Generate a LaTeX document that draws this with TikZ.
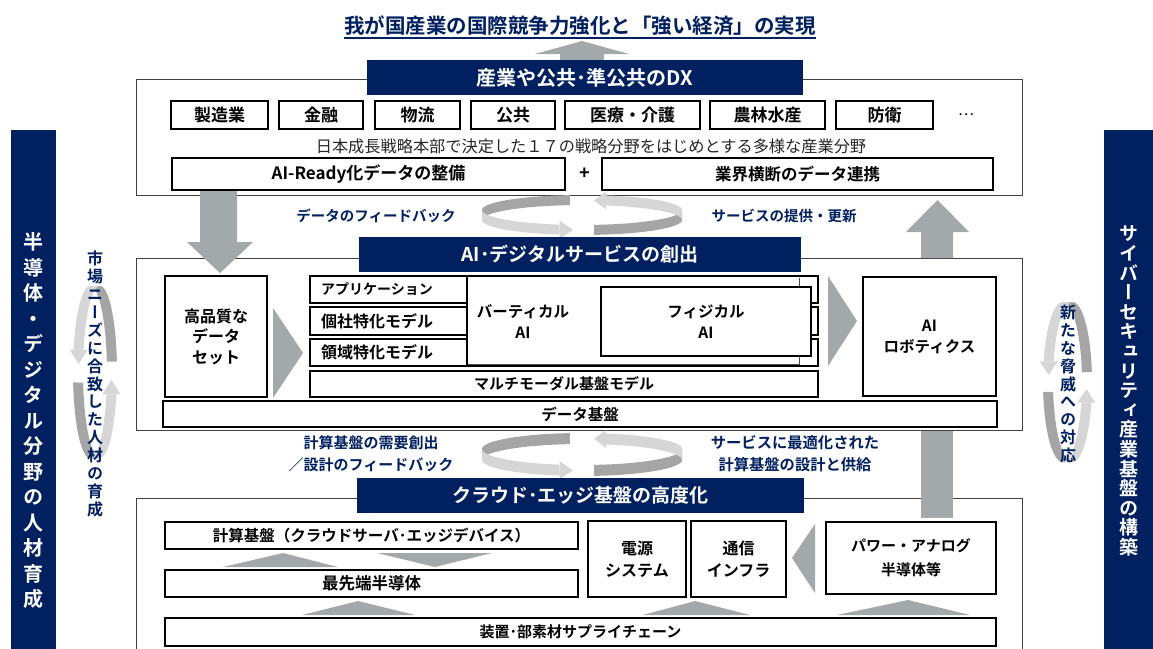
\documentclass[tikz,border=0pt]{standalone}
\usepackage{fontspec}
\setmainfont{Noto Sans CJK JP}[BoldFont={Noto Sans CJK JP Bold}]
\newfontfamily\vjp{Noto Sans CJK JP Bold}[RawFeature={+vert}]
\usetikzlibrary{arrows.meta}
\definecolor{navy}{RGB}{0,32,96}
\definecolor{agray}{RGB}{163,168,170}
\definecolor{rdark}{RGB}{165,165,165}
\definecolor{rlight}{RGB}{214,214,214}
\definecolor{fgray}{RGB}{64,64,64}
\definecolor{subtxt}{RGB}{38,38,38}
\newcommand\mybox[7]{\node[#1, minimum width={(#5)-(#3)}, minimum height={(#6)-(#4)}] (#2) at ({((#3)+(#5))/2},{((#4)+(#6))/2}) {#7};}
\newcommand\ribbon[9]{\fill[#1] plot[domain=0:1,samples=36] ({#2+#4*cos((#8)+((#9)-(#8))*\x)},{#3+#5*sin((#8)+((#9)-(#8))*\x)}) -- plot[domain=0:1,samples=36] ({#2+#6+#4*cos((#9)+((#8)-(#9))*\x)},{#3+#7+#5*sin((#9)+((#8)-(#9))*\x)}) -- cycle;}
\begin{document}
\begin{tikzpicture}[x=1pt,y=-1pt,
  tbox/.style={draw=black, line width=2.6pt, fill=white, align=center, inner sep=1pt},
  frame/.style={draw=fgray, line width=1pt, fill=white},
  banner/.style={fill=navy, text=white, inner sep=0pt},
  fz/.style 2 args={font=\bfseries\fontsize{#1}{#2}\selectfont},
  lbl/.style={text=navy, align=center, inner sep=0pt},
  rd/.style={fill=rdark}, rl/.style={fill=rlight}, ar/.style={fill=agray}]
\useasboundingbox (0,0) rectangle (1153,648);
\fill[white] (0,0) rectangle (1153,648);
% title
\node[lbl, fz={20.5}{23}] (title) at (580,26) {我が国産業の国際競争力強化と「強い経済」の実現};
\coordinate (ul) at (0,38);
\draw[navy, line width=1.1pt] (title.west |- ul) -- (title.east |- ul);
% arrow to title (behind banner)
\fill[ar] (560,62) -- (560,54) -- (535,54) -- (582,41) -- (629,54) -- (604,54) -- (604,62) -- cycle;
% frames
\mybox{frame}{topframe}{136}{79}{1022}{195}{}
\mybox{frame}{midframe}{136}{258}{1022}{430}{}
\filldraw[draw=fgray, fill=white, line width=1pt] (136,660) -- (136,498) -- (1022,498) -- (1022,660);
% rings upper
\ribbon{rd}{582}{210}{100}{15}{0}{10}{-97}{-180}
\ribbon{rl}{582}{210}{100}{15}{0}{10}{-180}{-257}
\fill[rl] (559.5,220.6) -- (573,230) -- (559.5,238.6) -- cycle;
\ribbon{rd}{582}{210}{100}{15}{0}{10}{83}{0}
\ribbon{rl}{582}{210}{100}{15}{0}{10}{0}{-76}
\fill[rl] (606.2,191.4) -- (594,200.4) -- (606.2,209.4) -- cycle;
% rings lower
\ribbon{rd}{582}{449}{100}{16}{0}{11}{-97}{-180}
\ribbon{rl}{582}{449}{100}{16}{0}{11}{-180}{-257}
\fill[rl] (559.5,461.1) -- (573,470.3) -- (559.5,479.1) -- cycle;
\ribbon{rd}{582}{449}{100}{16}{0}{11}{83}{0}
\ribbon{rl}{582}{449}{100}{16}{0}{11}{0}{-76}
\fill[rl] (606.2,430) -- (594,438.8) -- (606.2,448) -- cycle;
% vertical rings
\ribbon{rd}{90}{372}{17}{86}{10}{0}{-7}{-90}
\ribbon{rl}{90}{372}{17}{86}{10}{0}{-90}{-165}
\fill[rl] (69.6,349.7) -- (78.6,364) -- (87.6,349.7) -- cycle;
\ribbon{rd}{90}{372}{17}{86}{10}{0}{173}{90}
\ribbon{rl}{90}{372}{17}{86}{10}{0}{90}{15}
\fill[rl] (102.4,394.3) -- (111.4,380) -- (120.4,394.3) -- cycle;
\ribbon{rd}{1062.5}{382}{19.5}{80}{10}{0}{-7}{-90}
\ribbon{rl}{1062.5}{382}{19.5}{80}{10}{0}{-90}{-165}
\fill[rl] (1039.7,361.3) -- (1048.7,375) -- (1057.7,361.3) -- cycle;
\ribbon{rd}{1062.5}{382}{19.5}{80}{10}{0}{173}{90}
\ribbon{rl}{1062.5}{382}{19.5}{80}{10}{0}{90}{15}
\fill[rl] (1077.3,402.7) -- (1086.3,389) -- (1095.3,402.7) -- cycle;
% banners
\mybox{banner, fz={20}{22}}{dxb}{367}{60}{803}{95}{産業や公共･準公共のDX}
\mybox{banner, fz={19}{22}}{aib}{359}{237}{801}{272}{AI･デジタルサービスの創出}
\mybox{banner, fz={19}{22}}{clb}{357}{478}{804}{513}{クラウド･エッジ基盤の高度化}
% block arrows
\fill[ar] (200,190) -- (237,190) -- (237,242) -- (253,242) -- (220,273) -- (187,242) -- (200,242) -- cycle;
\fill[ar] (921,258) -- (921,232) -- (906,232) -- (937.5,200) -- (969,232) -- (953,232) -- (953,258) -- cycle;
\fill[ar] (921,431) rectangle (953,518);
\fill[ar] (273,308) -- (303,353) -- (273,398) -- cycle;
\fill[ar] (828,276) -- (857,321) -- (828,366) -- cycle;
\fill[ar] (223,567) -- (283,553) -- (338,567) -- cycle;
\fill[ar] (377,553) -- (435,567) -- (492,553) -- cycle;
\fill[ar] (302,615) -- (358,601) -- (415,615) -- cycle;
\fill[ar] (643,615) -- (695,601) -- (750,615) -- cycle;
\fill[ar] (837,615) -- (908,600) -- (970,615) -- cycle;
\fill[ar] (815,524) -- (792,558) -- (815,593) -- cycle;
% top section
\mybox{tbox, fz={17}{19}}{i1}{171}{101}{268}{129}{製造業}
\mybox{tbox, fz={17}{19}}{i2}{279}{101}{363}{129}{金融}
\mybox{tbox, fz={17}{19}}{i3}{375}{101}{460}{129}{物流}
\mybox{tbox, fz={17}{19}}{i4}{471}{101}{555}{129}{公共}
\mybox{tbox, fz={17}{19}}{i5}{565}{101}{700}{129}{医療・介護}
\mybox{tbox, fz={17}{19}}{i6}{710}{101}{825}{129}{農林水産}
\mybox{tbox, fz={17}{19}}{i7}{836}{101}{933}{129}{防衛}
\node[font=\fontsize{15}{18}\selectfont] (dots) at (966,115) {…};
\node[font=\fontsize{16.2}{19}\selectfont, text=subtxt, inner sep=0pt] (sub) at (591,146) {日本成長戦略本部で決定した１７の戦略分野をはじめとする多様な産業分野};
\mybox{tbox, fz={17}{19}}{ready}{172}{158}{565}{190}{AI-Ready化データの整備}
\node[fz={18}{20}] (plus) at (585,174) {+};
\mybox{tbox, fz={16.5}{19}}{cross}{602}{158}{993}{190}{業界横断のデータ連携}
% cycle labels
\node[lbl, fz={14.5}{17}] (fb1) at (376,216) {データのフィードバック};
\node[lbl, fz={14.5}{17}] (sv1) at (784,216) {サービスの提供・更新};
\node[lbl, fz={15}{22}] (fb2) at (371,454) {計算基盤の需要創出\\／設計のフィードバック};
\node[lbl, fz={15.3}{22}] (sv2) at (795,454) {サービスに最適化された\\計算基盤の設計と供給};
% middle section
\mybox{tbox, fz={16}{20.5}}{dataset}{165}{276}{267}{397}{高品質な\\データ\\セット}
\mybox{tbox}{lay1}{310}{276}{818}{303}{}
\mybox{tbox}{lay2}{310}{307}{818}{335}{}
\mybox{tbox}{lay3}{310}{339}{818}{366}{}
\fill[white] (467,277.5) rectangle (799,364.5);
\draw[line width=0.8pt, black!70] (799,277.5) -- (799,364.5) -- (467,364.5);
\draw[line width=2.6pt] (467,276) -- (467,366);
\node[fz={14}{17}, anchor=west, inner sep=0pt] (applbl) at (321,289.5) {アプリケーション};
\node[fz={16}{17}, anchor=west, inner sep=0pt] (koshalbl) at (321,321) {個社特化モデル};
\node[fz={16}{17}, anchor=west, inner sep=0pt] (ryoikilbl) at (321,352.5) {領域特化モデル};
\node[fz={15.5}{21}, align=center] (vert) at (523,321) {バーティカル\\AI};
\mybox{tbox, fz={15.5}{21}}{phys}{601}{287}{811}{356}{フィジカル\\AI}
\mybox{tbox, fz={15}{18}}{mm}{310}{371}{818}{397}{マルチモーダル基盤モデル}
\mybox{tbox, fz={15.5}{18}}{dk}{163}{401}{997}{427}{データ基盤}
\mybox{tbox, fz={15.5}{21}}{robo}{863}{277}{996}{396}{AI\\ロボティクス}
% bottom section
\mybox{tbox, fz={15.5}{18}}{calc}{165}{522}{578}{549}{計算基盤（クラウドサーバ･エッジデバイス）}
\mybox{tbox, fz={16.5}{18}}{semi}{165}{570}{578}{597}{最先端半導体}
\mybox{tbox, fz={16}{22}}{power}{588}{521}{686}{597}{電源\\システム}
\mybox{tbox, fz={16}{22}}{comm}{691}{521}{786}{597}{通信\\インフラ}
\mybox{tbox, fz={15}{24}}{pwa}{826}{522}{996}{594}{パワー・アナログ\\半導体等}
\mybox{tbox, fz={15}{18}}{supply}{165}{618}{996}{646}{装置･部素材サプライチェーン}
% ring texts
\node[lbl, font={\vjp\fontsize{16}{17.9}\selectfont}] (lring) at (95,384) {市\\場\\ニ\\ー\\ズ\\に\\合\\致\\し\\た\\人\\材\\の\\育\\成};
\node[lbl, font={\vjp\fontsize{16}{17.8}\selectfont}] (rring) at (1068,384) {新\\た\\な\\脅\\威\\へ\\の\\対\\応};
% side bars
\mybox{fill=navy, inner sep=0pt}{lbar}{11}{130}{56}{652}{}
\node[text=white, align=center, inner sep=0pt, font={\vjp\fontsize{20}{25.5}\selectfont}] (ltext) at (33.5,421) {半\\導\\体\\・\\デ\\ジ\\タ\\ル\\分\\野\\の\\人\\材\\育\\成};
\mybox{fill=navy, inner sep=0pt}{rbar}{1104}{130}{1160}{652}{}
\node[text=white, align=center, inner sep=0pt, font={\vjp\fontsize{19}{19.6}\selectfont}] (rtext) at (1128.5,391) {サ\\イ\\バ\\ー\\セ\\キ\\ュ\\リ\\テ\\ィ\\産\\業\\基\\盤\\の\\構\\築};
\end{tikzpicture}
\end{document}
